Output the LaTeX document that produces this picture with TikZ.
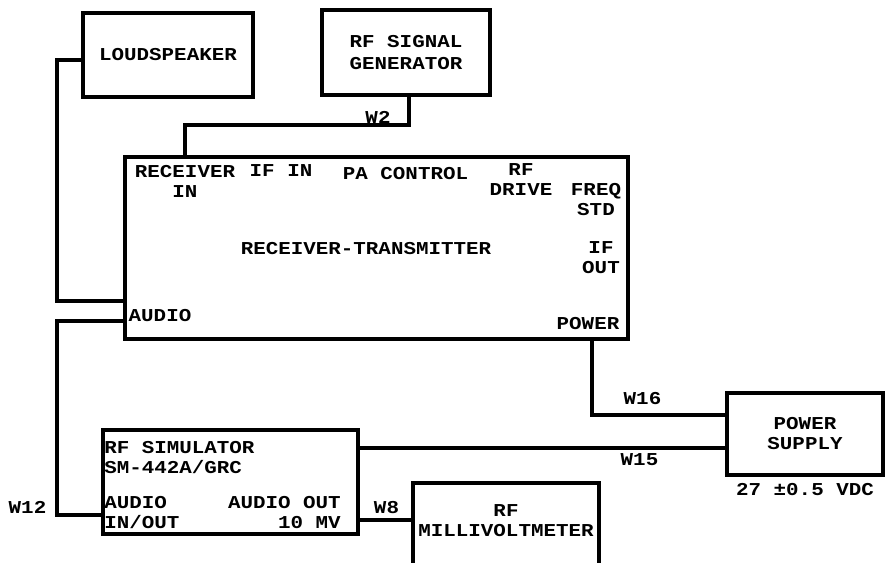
\documentclass[tikz,border=0pt]{standalone}
\usepackage{fontspec}
\newfontfamily\typefont{Liberation Mono}[FakeStretch=1.15]
\usetikzlibrary{positioning,calc}

\begin{document}
\begin{tikzpicture}[
      x=0.75pt, y=-0.75pt,
      font=\typefont\bfseries\fontsize{13.6}{15}\selectfont,
      unit/.style={draw, line width=2.5pt, inner sep=0pt, outer sep=0pt, align=center},
      port/.style={inner sep=0pt, align=center},
      tag/.style={inner sep=0pt},
      wire/.style={line width=2.3pt},
    ]
    \clip (0,0) rectangle (885,563);

    % units
    \node[unit, minimum width=127.5pt, minimum height=63pt] (spk) at (168,55) {LOUDSPEAKER};
    \node[unit, minimum width=126pt, minimum height=63.75pt] (gen) at (406,52.5) {RF SIGNAL\\[1.5pt]GENERATOR};
    \node[unit, minimum width=377.25pt, minimum height=136.5pt] (rt) at (376.5,248) {};
    \node[unit, minimum width=191.25pt, minimum height=78pt] (sim) at (230.5,482) {};
    \node[unit, minimum width=139.5pt, minimum height=87.75pt] (mv) at (506,541.5) {};
    \node[unit, minimum width=117pt, minimum height=61.5pt] (psu) at (805,434) {POWER\\SUPPLY};

    % receiver-transmitter panel
    \node[port] (rt-title) at (366,249) {RECEIVER-TRANSMITTER};
    \node[port] (rt-rx) at (185,181) {RECEIVER\\IN};
    \node[port] (rt-if) at (281,171) {IF IN};
    \node[port] (rt-pa) at (405.5,174) {PA CONTROL};
    \node[port] (rt-drv) at (521,180) {RF\\DRIVE};
    \node[port] (rt-freq) at (596,200) {FREQ\\STD};
    \node[port] (rt-ifo) at (601,257.5) {IF\\OUT};
    \node[port] (rt-pwr) at (588,323.5) {POWER};
    \node[port] (rt-aud) at (160,315.5) {AUDIO};

    % simulator and meter texts
    \node[port, anchor=west, align=left] (sim-name) at (104,457.5) {RF SIMULATOR\\SM-442A/GRC};
    \node[port, anchor=west, align=left] (sim-aud) at (104,512.5) {AUDIO\\IN/OUT};
    \node[port, anchor=east, align=right] (sim-out) at (341,512.5) {AUDIO OUT\\10 MV};
    \node[port] (mv-name) at (506,521) {RF\\MILLIVOLTMETER};

    % jacks
    \coordinate (spk-jack) at ($(spk.west)+(0,5)$);
    \coordinate (gen-out) at ($(gen.south west)+(87,0)$);
    \coordinate (rt-rxin) at ($(rt.north west)+(60,0)$);
    \coordinate (rt-spk) at ($(rt.north west)+(0,144)$);
    \coordinate (rt-audio) at ($(rt.north west)+(0,164)$);
    \coordinate (rt-power) at ($(rt.south west)+(467,0)$);
    \coordinate (sim-in) at ($(sim.north west)+(0,85)$);
    \coordinate (sim-rf) at ($(sim.north east)+(0,18)$);
    \coordinate (sim-mv) at ($(sim.north east)+(0,90)$);
    \coordinate (mv-in) at (mv.west |- sim-mv);
    \coordinate (psu-w16) at ($(psu.north west)+(0,22)$);
    \coordinate (psu-w15) at ($(psu.north west)+(0,55)$);

    % cables
    \draw[wire] (spk-jack) -- ++(-26,0) |- (rt-spk);
    \draw[wire] (rt-audio) -- ++(-68,0) |- (sim-in);
    \draw[wire] (gen-out) -- ++(0,30) -| (rt-rxin);
    \draw[wire] (rt-power) |- (psu-w16);
    \draw[wire] (sim-rf) -- (psu-w15);
    \draw[wire] (sim-mv) -- (mv-in);

    \node[tag] (w2) at (378,117) {W2};
    \node[tag] (w16) at (642.5,398.5) {W16};
    \node[tag] (w15) at (639.5,460) {W15};
    \node[tag] (w12) at (27.5,507) {W12};
    \node[tag] (w8) at (386.5,507.5) {W8};
    \node[tag] (vdc) at (805,490) {27 ±0.5 VDC};
  \end{tikzpicture}
\end{document}
